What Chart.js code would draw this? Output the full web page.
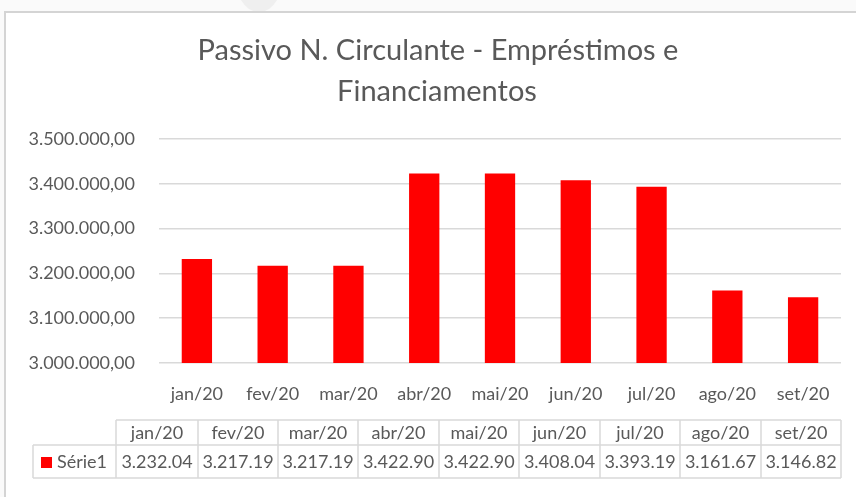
<!DOCTYPE html>
<html>
<head>
<meta charset="utf-8">
<script src="https://cdn.jsdelivr.net/npm/chart.js@4/dist/chart.umd.min.js"></script>
<style>
html,body{margin:0;padding:0;background:#fff;}
#wrap{position:relative;width:856px;height:497px;}
canvas{display:block;}
</style>
</head>
<body>
<div id="wrap"><canvas id="c" width="856" height="497"></canvas></div>
<script>
const titleLines = ['Passivo N. Circulante - Empréstimos e', 'Financiamentos'];
const categories = ['jan/20','fev/20','mar/20','abr/20','mai/20','jun/20','jul/20','ago/20','set/20'];
const seriesName = 'Série1';
const values = [3232040, 3217190, 3217190, 3422900, 3422900, 3408040, 3393190, 3161670, 3146820];
const yMin = 3000000, yMax = 3500000, yStep = 100000;

const FONT = 'Lato, "Liberation Sans", sans-serif';
const TXT = '#595959';
const BAR = '#ff0000';

function fmtBR(v){
  const neg = v < 0; v = Math.abs(v);
  const int = Math.floor(v).toString();
  const dec = Math.round((v - Math.floor(v))*100).toString().padStart(2,'0');
  let s = '';
  for (let i=0;i<int.length;i++){
    if (i>0 && (int.length-i)%3===0) s += '.';
    s += int[i];
  }
  return (neg?'-':'') + s + ',' + dec;
}
// table cells show truncated text as in the original
const tableLabels = values.map(v => fmtBR(v).slice(0,8));

const decor = {
  id:'decor',
  beforeDraw(chart){
    const ctx = chart.ctx;
    ctx.save();
    ctx.fillStyle = '#fafafa';
    ctx.fillRect(0,0,856,11);
    ctx.fillRect(0,0,4,497);
    // faint grey tab at the top
    ctx.fillStyle = '#efefef';
    ctx.beginPath();
    ctx.moveTo(241,0); ctx.lineTo(277,0); ctx.quadraticCurveTo(270,12,259,12); ctx.quadraticCurveTo(248,12,241,0); ctx.closePath();
    ctx.fill();
    // frame
    ctx.strokeStyle = '#d4d4d4';
    ctx.lineWidth = 2;
    ctx.beginPath();
    ctx.moveTo(856,12); ctx.lineTo(5,12); ctx.lineTo(5,497);
    ctx.stroke();
    // title
    ctx.fillStyle = TXT;
    ctx.font = '29px ' + FONT;
    ctx.textAlign = 'center';
    ctx.textBaseline = 'middle';
    ctx.fillText(titleLines[0], 438, 51);
    ctx.fillText(titleLines[1], 437, 92);
    ctx.restore();
  },
  afterDraw(chart){
    const ctx = chart.ctx;
    const cols = [116,198,278,358,439,519,600,680,761,841];
    const r0 = 420, r1 = 445, r2 = 478, labL = 33;
    ctx.save();
    ctx.strokeStyle = '#d9d9d9';
    ctx.lineWidth = 1.5;
    ctx.beginPath();
    ctx.moveTo(cols[0], r0); ctx.lineTo(cols[9], r0);
    ctx.moveTo(labL, r1); ctx.lineTo(cols[9], r1);
    ctx.moveTo(labL, r2); ctx.lineTo(cols[9], r2);
    ctx.moveTo(labL, r1); ctx.lineTo(labL, r2);
    cols.forEach(x => { ctx.moveTo(x, r0); ctx.lineTo(x, r2); });
    ctx.stroke();
    ctx.fillStyle = TXT;
    ctx.font = '18px ' + FONT;
    ctx.textAlign = 'center';
    ctx.textBaseline = 'middle';
    for (let i=0;i<categories.length;i++){
      const cx = (cols[i]+cols[i+1])/2;
      ctx.fillText(categories[i], cx, (r0+r1)/2+1);
      ctx.fillText(tableLabels[i], cx, (r1+r2)/2+1);
    }
    ctx.fillStyle = BAR;
    ctx.fillRect(41, 457, 11, 11);
    ctx.fillStyle = TXT;
    ctx.textAlign = 'left';
    ctx.fillText(seriesName, 57, (r1+r2)/2+1);
    ctx.restore();
  }
};

new Chart(document.getElementById('c'), {
  type:'bar',
  data:{
    labels: categories,
    datasets:[{
      label: seriesName,
      data: values,
      backgroundColor: BAR,
      borderWidth: 0,
      categoryPercentage: 1,
      barPercentage: 0.4
    }]
  },
  options:{
    responsive:false,
    animation:false,
    devicePixelRatio:1,
    layout:{padding:{top:139, right:15, bottom:94, left:0}},
    plugins:{legend:{display:false}, title:{display:false}, tooltip:{enabled:false}},
    scales:{
      x:{
        grid:{display:false},
        border:{display:false},
        ticks:{color:TXT, font:{family:FONT, size:18}, padding:12, maxRotation:0, autoSkip:false},
        afterFit(s){ s.height = 40; }
      },
      y:{
        min:yMin, max:yMax,
        grid:{color:'#d9d9d9', lineWidth:1.5, drawTicks:false},
        border:{display:false},
        ticks:{stepSize:yStep, color:TXT, font:{family:FONT, size:18}, padding:24, callback:v=>fmtBR(v)},
        afterFit(s){ s.width = 159; }
      }
    }
  },
  plugins:[decor]
});
</script>
</body>
</html>
